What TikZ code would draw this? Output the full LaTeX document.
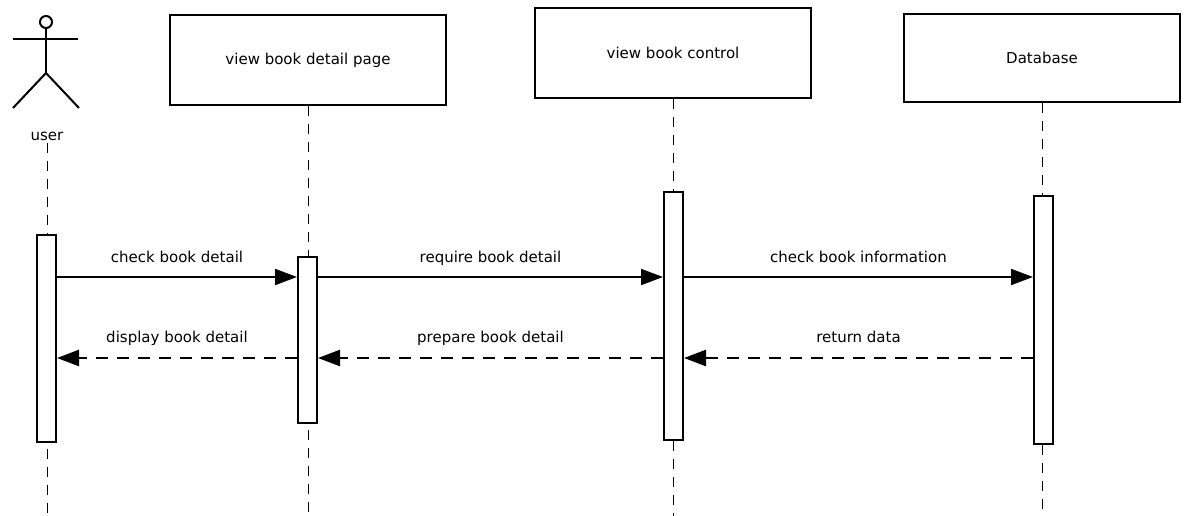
\documentclass[tikz,border=0pt]{standalone}
\usepackage{fontspec}
\setmainfont{DejaVu Sans}
\usepackage{tikz}
\usetikzlibrary{arrows.meta,positioning}
\tikzstyle{objbox}=[rectangle, draw, line width=2pt, anchor=north west, minimum width=276pt, inner sep=0pt, font=\fontsize{15}{18}\selectfont]
\tikzstyle{actbar}=[rectangle, draw, fill=white, line width=2pt, anchor=north west, minimum width=19pt, inner sep=0pt]
\tikzstyle{lifeline}=[line width=1pt, dash pattern=on 10pt off 8pt]
\tikzstyle{msg}=[line width=2pt, -{Triangle[length=22pt,width=16pt]}]
\tikzstyle{reply}=[line width=2.5pt, dash pattern=on 12pt off 9pt, -{Triangle[length=22pt,width=16pt]}]
\tikzstyle{msglabel}=[font=\fontsize{15}{18}\selectfont, text depth=0pt, inner sep=0pt, above=14pt]

\begin{document}
\begin{tikzpicture}[x=1pt,y=-1pt]
	\useasboundingbox (0,0) rectangle (1186,516);

	%%% first row, the actor and the objects
	\node[circle, draw, line width=2pt, minimum size=12pt, inner sep=0pt] (userHead) at (46,22) {};
	\coordinate (userHip) at (46,73);
	\draw[line width=2pt] (13,39) -- (78,39);
	\draw[line width=2pt] (userHead.south) -- (userHip);
	\draw[line width=2pt] (13,108) -- (userHip) -- (79,108);
	\node[font=\fontsize{15}{18}\selectfont, inner sep=2pt] (userLabel) at (47,136) {user};

	\node[objbox,minimum height=90pt] (pageBox) at (169,14) {view book detail page};
	\node[objbox,minimum height=90pt] (controlBox) at (534,7) {view book control};
	\node[objbox,minimum height=88pt] (dbBox) at (903,13) {Database};

	% bottom of the lifelines
	\coordinate (bottomEnd) at (0,516);

	\draw[lifeline] (userLabel.south) -- (userLabel.south |- bottomEnd);
	\draw[lifeline] (pageBox.south) -- (pageBox.south |- bottomEnd);
	\draw[lifeline] (controlBox.south) -- (controlBox.south |- bottomEnd);
	\draw[lifeline] (dbBox.south) -- (dbBox.south |- bottomEnd);

	%%% second row, activation bars
	\node[actbar,minimum height=207pt] (userAct) at (36,234) {};
	\node[actbar,minimum height=166pt] (pageAct) at (297,256) {};
	\node[actbar,minimum height=248pt] (controlAct) at (663,191) {};
	\node[actbar,minimum height=248pt] (dbAct) at (1033,195) {};

	%%% third row, the messages
	\coordinate (callRow) at (0,277);
	\coordinate (replyRow) at (0,358);

	\draw[msg] (userAct.east |- callRow) -- node[msglabel] {check book detail} (pageAct.west |- callRow);
	\draw[msg] (pageAct.east |- callRow) -- node[msglabel] {require book detail} (controlAct.west |- callRow);
	\draw[msg] (controlAct.east |- callRow) -- node[msglabel] {check book information} (dbAct.west |- callRow);

	% replies
	\draw[reply] (dbAct.west |- replyRow) -- node[msglabel] {return data} (controlAct.east |- replyRow);
	\draw[reply] (controlAct.west |- replyRow) -- node[msglabel] {prepare book detail} (pageAct.east |- replyRow);
	\draw[reply] (pageAct.west |- replyRow) -- node[msglabel] {display book detail} (userAct.east |- replyRow);
\end{tikzpicture}
\end{document}
